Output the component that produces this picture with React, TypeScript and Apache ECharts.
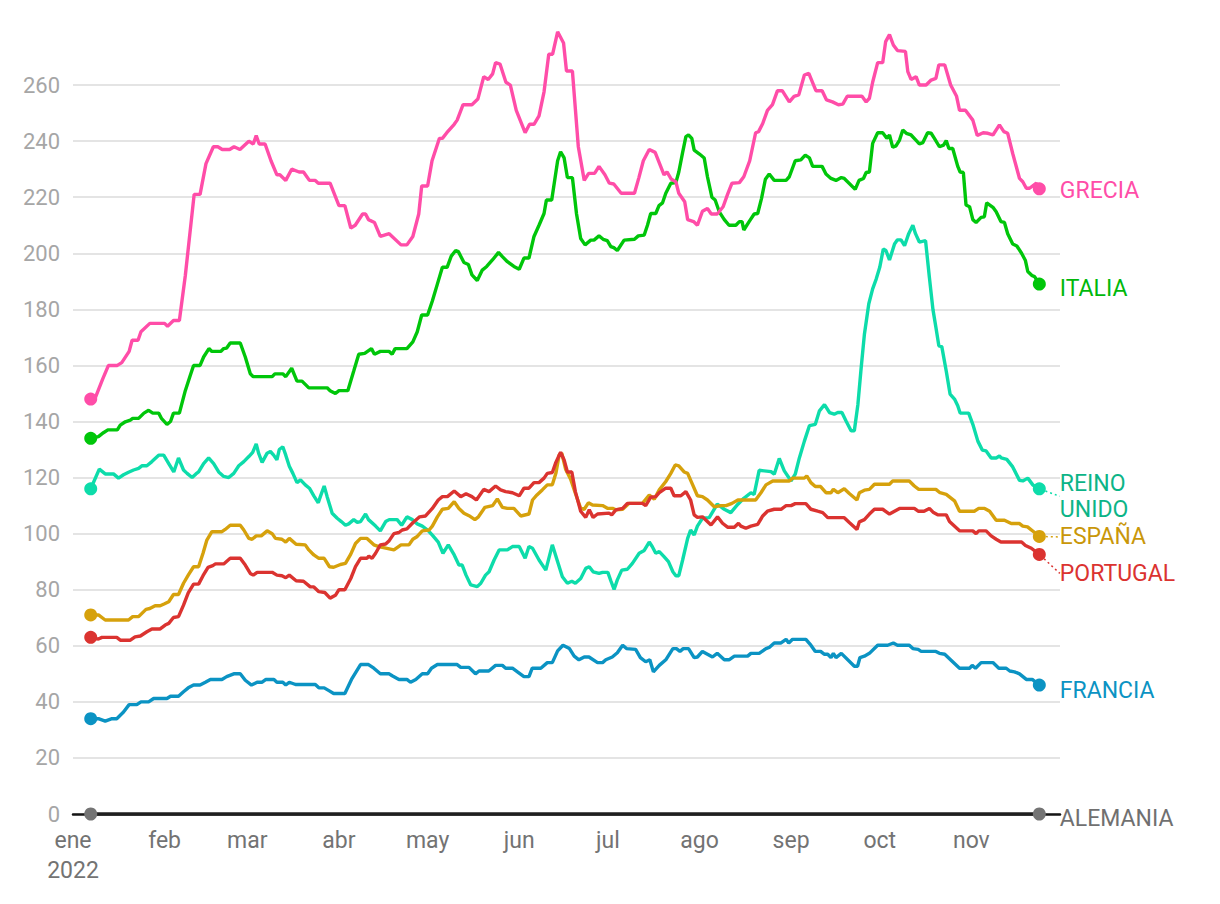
import React, { useEffect, useRef } from "react";
import * as echarts from "echarts";

const monthLabels = ["ene", "feb", "mar", "abr", "may", "jun", "jul", "ago", "sep", "oct", "nov", "dic"];
const yearLabel = "2022";
const yMax = 280;
const yInterval = 20;

// [day offset from 1 Jan 2022, value]
const grecia: [number, number][] = [[6,148],[7,147],[10,155],[12,160],[15,160],[16.5,161],[19,165],[20,169],[22,169],[23,172],[26,175],[31,175],[32,174],[34,176],[36,176],[38,192],[41,221],[43,221],[45,232],[47.5,238],[49,238],[50.5,237],[53,237],[54.5,238],[56.5,237],[59.5,240],[61,239],[62,242],[63,239],[65,239],[67,233],[69,228],[70,228],[72,226],[74,230],[76.5,229],[78,229],[80,226],[82,226],[83,225],[87,225],[90,217],[92,217],[94,209],[95.5,210],[98,214],[99,214],[100,212],[102,211],[104,206],[107,207],[111,203],[113,203],[115,206],[117,214],[118,224],[120,224],[121.5,233],[124,241],[125,241],[126.5,243],[129,246],[130,247.5],[132,253],[135,253],[137,255],[139,263],[140.5,262],[142,264],[143,268],[144.5,267.5],[146.5,261],[148,260],[150,251],[153,243],[154.5,246],[156,246],[157.7,249],[159.4,257.6],[161,271],[162.3,271],[164,279],[166,275],[167,265],[169,265],[171,238],[173,226],[174.5,228.5],[176.5,228.5],[178,231],[180,228],[181.5,225],[183,224.7],[185.5,221.4],[190,221.4],[191.5,227],[193,233],[195,237],[197,236],[200,228],[201,229],[202.5,226.4],[204,225.5],[205,221.4],[207,218.4],[208,212],[210,211.3],[211.3,210],[213,215],[214.7,216],[216,214],[218,214],[220,216.6],[221.5,221],[223,225],[225.5,225.2],[227,227.3],[229,233],[231,243],[232,243.4],[233.4,246.3],[235,251],[236.7,253],[238.4,258],[240,258],[242.4,254],[244,256],[245.6,256.5],[247.5,263.6],[249,264.2],[251.4,258],[253.5,258],[255,254.7],[257,254],[259,253],[260.5,253.2],[262,256],[267,256],[268.4,254],[269.5,255.3],[270.6,261],[272.3,268],[274,268],[275,275.5],[276.3,278],[277.6,274.3],[279,272.3],[281.7,272],[282.5,264.8],[283.6,262],[285.3,263],[286.4,260],[288.7,260],[290.4,261.8],[292,262.4],[293,267.2],[295,267.2],[297,260],[299,256],[300,251],[302,251],[304.5,247.5],[306,242],[308,243],[309.6,242.8],[311.3,242.2],[313.5,245.8],[315,243.4],[316.3,242.8],[318,235.6],[320.3,226.7],[321.4,225.5],[322.6,223.2],[323.7,223.2],[326,225],[327,223]];

const italia: [number, number][] = [[6,134],[8.6,134.6],[10.3,136],[11.8,137],[15,137],[16,138.7],[17.7,139.9],[19.4,140.5],[20.2,141.1],[22.2,141.1],[24,143],[25.6,144],[27,143],[29,143],[30,141],[31.8,139],[33,140],[34,143],[36,143],[38,151],[39.7,156.5],[40.8,160],[43,160],[44.2,163],[46,166],[47,165],[50,165],[51,166],[52,166.2],[53.2,168],[56.6,168],[58.3,163],[60,157],[61,156],[67.4,156],[68.3,157],[71,157],[72,156],[74,159],[75.8,154.4],[77.5,154.4],[79.8,152],[86,152],[87,151],[88.8,150],[90,151],[93,151],[95,158],[96.7,164],[98.7,164.3],[101,166],[102,164],[104,165],[107,165],[108,164],[109,166],[113,166],[115,168.4],[116.5,172],[118,178],[120,178],[121.6,183],[123.3,189],[125,195],[126.6,195],[128,199],[129.5,201],[130.4,200.6],[132.3,196.7],[133.8,196],[135,192.3],[136.8,190.3],[138.5,194],[140,195.3],[142,197.7],[144,200.3],[145.3,198.8],[147,197],[149.2,195.3],[151,194.3],[152.6,198.3],[154.3,198.3],[156,206],[157.7,210],[159.4,214.2],[160.2,219],[162,219],[164,233],[165,236.2],[166.2,234],[167.3,227],[169,227],[170.4,214],[171.8,205.3],[173.3,203],[175.2,204.7],[176.3,204.7],[178,206.2],[179.4,205],[180.8,204.5],[182,202.4],[183,202],[184.2,201],[186.5,204.7],[190,205],[191.3,206.2],[193.3,206.5],[194.4,210],[195.5,214.2],[197.2,214.2],[198.3,217],[199.5,218],[200.6,221.4],[202.3,225],[204,225.2],[205,229],[206.3,236],[207.4,241.6],[208.3,242.2],[209.4,241],[210.2,236.8],[212,235.4],[213.6,234],[214.7,227.3],[216.2,220],[217.3,219],[218.7,214.8],[220.4,212],[222,210],[224.3,210],[225.5,211.3],[226.4,211.3],[227,208.3],[228.8,211.3],[230.5,214],[231.7,214.2],[233,219.6],[234.3,226.4],[235.6,228.3],[237.3,226],[241.3,226],[242.4,227.3],[244.4,233],[246.3,233.3],[247.8,235],[249.2,234],[250.3,231],[253.5,231],[254.8,228.3],[256.5,226.7],[258.2,226],[260,227],[261,226.7],[264.7,222.8],[266,226],[267.5,226.7],[268.4,228.8],[269.5,229],[270.6,239.2],[272.3,243],[274,243],[275.4,241],[276.3,242.2],[277.4,237.8],[278.5,238.3],[279.7,240.4],[280.8,244],[282,242.8],[283.6,242.2],[285,240.6],[286.4,239],[287.6,239.5],[289.2,243],[290.4,242.8],[291.5,241],[293.2,238],[294.6,238.6],[295.5,240.2],[296.4,237.4],[297.7,237.4],[299.4,231],[300.2,229],[301.3,228.8],[302.2,217.2],[303.4,216.6],[304.5,212],[305.6,211],[307.3,212.8],[308.4,213],[309.2,218],[311.3,216.4],[312.4,214.8],[314,211.3],[315.2,211],[316.3,207],[318,203.3],[319.4,202.6],[321,200],[322.3,197.4],[323.1,193.5],[324.6,192],[325.4,191.7],[327,189]];

const reinoUnido: [number, number][] = [[6,116],[8.9,123],[10.9,121.3],[13.7,121.3],[15.4,119.8],[17.1,121],[18.8,121.9],[20.5,122.7],[22.2,123.3],[23.3,124.2],[25,124.2],[26.7,125.7],[29,128],[30.7,128],[32.4,125],[34.1,122],[35.7,127],[37.4,122.7],[38.6,121.5],[40.3,120],[41.6,121.3],[42.5,122],[44.2,125],[45.9,127],[47.6,125],[49.3,122],[51,120.4],[52.7,120],[54.4,121.5],[56.1,124.2],[57.8,125.7],[59.5,127.5],[60.8,129],[62,132],[62.8,128.7],[64,125.4],[65.7,128.7],[66.8,129.3],[67.9,128],[69,126.3],[69.8,130],[71,131],[72,128],[73.2,124],[74.4,121.5],[75.8,118.2],[77,119.2],[78.6,117.4],[80,116.2],[81.5,113.5],[83,111],[83.7,113.2],[85,117],[86,113.2],[87.7,107.3],[89.4,105.5],[90.8,104.3],[92.2,103],[93.3,103.5],[95,105],[96.2,104],[97.3,104.3],[99,107],[100,105],[102.4,102.7],[104,101],[105.8,104.3],[107,105],[109.7,105],[111.2,103],[113,106],[114.8,105],[116.5,103.5],[118.2,102.7],[120,101.3],[121.6,99.5],[123.6,97],[125.2,93],[127,96],[129,92.4],[130.6,88.8],[131.7,88.8],[133,85.2],[134.6,81.7],[136.8,81.1],[138,82.3],[139.6,85.2],[140.8,86.4],[142.5,90.6],[144.2,94.2],[147,94.2],[148.7,95.4],[151,95.4],[153,91.2],[154.3,95.4],[155.5,94.8],[157.7,90.6],[160,87],[162.2,96],[164,90],[165.6,84.6],[167.3,82.3],[168.8,83],[170,82.3],[171.8,84],[173.5,87.6],[174.7,88.2],[176,86.4],[178,85.8],[179.2,86.2],[181,86.2],[182,83.2],[183.1,80.1],[184.2,83.5],[185.7,87],[187.6,87.3],[189.3,89.4],[191.6,93],[193.3,94],[195,97],[196,95.4],[197.2,93],[198.4,93.6],[200,91.8],[201.5,90],[203,86.4],[204,85],[205,85],[206.3,90.6],[208,98.3],[209,101.3],[210.2,99.5],[211.3,102.7],[213,105.5],[215.3,105.7],[218,110.5],[220.4,108.7],[222.6,107.5],[225,110.5],[227,112.6],[229.4,114.6],[230.5,114],[232.2,122.6],[236.2,122.1],[237.3,121.2],[239,126.8],[240.7,122.4],[243,118.8],[244.4,121.2],[245.8,127],[247.5,133],[249.2,138.5],[251.2,139],[252.6,143.8],[254.3,146],[256,143.2],[257.6,142.6],[258.8,143.2],[260.2,143.2],[261.6,140.2],[263.3,136.7],[264.4,136.7],[265.6,146],[266.7,159],[267.8,171],[269.3,182],[270.6,187.3],[271.8,190.8],[273,195],[274.2,201.5],[275.1,201],[276.3,197.6],[278,203.3],[279,204.8],[280.2,204.8],[281.4,202.7],[282.8,207],[284.2,210],[285.1,207],[286.4,204],[288.5,204.5],[289.8,191.4],[291,180],[292,173.6],[293,167],[294,166.7],[295.5,158],[296.8,149.8],[298.3,148],[299.4,145.6],[300.2,143],[303.1,143],[304.5,139],[306.2,133],[307.7,129.8],[309,129.5],[310.7,127],[312.4,127],[313.5,127.7],[314.1,127],[316,126.5],[318,123.8],[320.3,119],[321.4,118.8],[323.1,119.8],[324.8,117.4],[326,116.4],[327,116]];

const espana: [number, number][] = [[6,71],[8.6,71],[10.9,69.2],[18.8,69.2],[20.2,70.4],[22.2,70.4],[24.7,73],[26,73.3],[27.8,74.3],[29.5,74.3],[31,75],[32.4,75.7],[34,78.3],[35.7,78.3],[37.4,82.3],[39,85.2],[40.8,88.2],[42.5,88.2],[44,93],[45.3,97.7],[47,100.7],[50.4,100.7],[51.5,101.5],[53.2,103],[56.6,103],[57.8,101.3],[59.5,98.3],[60.6,98],[62,99.2],[63.7,99.2],[65.7,101],[67.4,100],[68.5,98.3],[70.7,98],[72,97],[73.2,98.3],[75.5,96.2],[78.6,96],[79.8,94.2],[81.5,92.4],[83.2,91.2],[85,91.2],[86.8,88.2],[88.2,88],[90.5,89],[92.2,89.4],[94,92.7],[95.6,96.5],[97.3,98.3],[99.5,98.3],[101.8,96],[103.5,95.4],[108.6,94.2],[111,96],[113.7,96],[115,98],[116.5,99],[118.2,101],[120.5,101.3],[121.6,102.7],[123.3,106],[125,108.7],[127,109],[129,111.4],[130.6,109],[132.3,107.3],[134,106.4],[136,105],[137.2,106],[139.4,109.4],[142,110],[143.6,112.4],[145.3,109.4],[147,109],[149.2,109],[151.5,106.3],[154.3,107],[155.5,112],[157,113.8],[158.8,115.6],[160.5,117.4],[162.2,117.4],[163.4,121.5],[164.5,128],[165.4,128.7],[166.7,123],[168.4,119.4],[170,114.4],[171.8,109],[173,108.7],[174.4,111],[175.8,110.2],[179.2,110],[181,109],[182.6,109],[183.7,108.5],[186,108.7],[188.2,110.8],[192.7,110.8],[195,113.8],[196.7,112.3],[198.4,115.6],[200.6,118.6],[202.3,121.5],[203.8,124.5],[205,124.2],[206.8,122],[208,121.5],[209.7,117.4],[211.3,113.5],[213,113.2],[214.7,112],[217,109.6],[219.3,110],[221,110],[223,110.8],[225,112],[226.6,112],[231,112],[232.8,114.6],[234.5,117.4],[236.8,118.8],[242.4,118.8],[243.5,119.8],[247.5,119.8],[248.3,120.6],[249.7,118.2],[251.2,116.8],[253,116.8],[254.8,114.6],[256.5,114.6],[257.3,115.8],[258.8,114.6],[261,116],[262.7,114.3],[265.3,112],[266.1,114.6],[267.8,115.5],[269.5,115.8],[271.2,117.6],[276.3,117.6],[277.4,118.8],[283,118.8],[284.7,117],[286.2,115.8],[292,115.8],[293.4,114.6],[295.5,114],[298.3,111.7],[300,108],[305,108],[306.5,109],[308.5,109],[310.2,108],[312.4,104.8],[315.2,104.8],[317.5,103.6],[320.3,103.6],[321.4,102.7],[323,102.4],[325.4,100.4],[327,99]];

const portugal: [number, number][] = [[6,63],[8.6,62.4],[9.8,63],[14.8,63],[16,62],[19.4,62],[21,63.2],[22.8,63.5],[25,65],[26.7,66],[29.5,66],[31.2,67.4],[32.4,68],[34,70.1],[35.7,70.4],[37.4,74.5],[39,78.9],[40.8,82],[42.5,82],[44,85],[45.7,88],[47.3,88.6],[48.2,89.2],[51,89.2],[53.2,91.2],[56.6,91.2],[58.3,88.8],[60,85.8],[61,85.2],[62.3,86.2],[67.4,86.2],[69,85.2],[70.7,85],[72,84.3],[73.2,85.2],[75.5,83.2],[78,83],[80.3,81],[81.5,81],[83.2,79.3],[85.2,79],[87,77],[88.8,78],[90,80],[92,80],[94,84],[95.6,88.2],[97.3,91.2],[99.5,91.2],[100.1,92],[101.2,91.2],[102.4,93],[104,96],[105.8,96.3],[107,97.5],[108.6,100],[110.3,100.4],[111.4,101.3],[113,101.7],[115,103.9],[117.3,106],[119.3,106.3],[121.6,109],[123.6,112],[125,113.2],[126.7,113.2],[129,115.2],[131.2,113.2],[133,114.2],[135,113.2],[136.5,112],[139,115.8],[140.8,115],[143,117],[144.7,115.6],[146.4,115],[148.7,114.6],[151,113.5],[152.6,116.2],[154.3,116.2],[156,118.2],[157.7,118.2],[159.4,119.8],[160.5,121.5],[162.2,121.8],[163.4,125.4],[165,129],[166.2,126.3],[167.3,122],[168.8,122],[170,115],[171.8,108],[173.5,105.8],[174.7,108.5],[176,105.8],[177.5,107],[181.4,107.3],[182.3,106.7],[183.7,108.5],[186,109],[187.6,110.8],[192.7,110.8],[193.8,110],[195.5,113],[197.2,113.2],[198.4,114.6],[200.6,116.2],[202.3,116.2],[203.4,113.5],[205.7,113.5],[207.4,115],[209,112],[210.2,106.7],[211.3,105.8],[213,106],[215.9,103.1],[218.1,106],[219.8,103.7],[221.5,102.3],[223.8,102.3],[225.2,103.7],[226,102.7],[227.7,101.9],[229.4,102.7],[231.7,103.3],[233.4,106.3],[235,108],[237.3,108.7],[239.6,108.7],[241.3,110],[243,110],[244.4,110.7],[248,110.7],[249.7,108.7],[252,108],[253.7,107.5],[255.4,105.7],[261,105.7],[262.7,104],[265.3,101.5],[266.1,104.2],[267.8,105],[269.5,107],[271.2,108.7],[274,108.7],[276.3,107],[278,108],[279.7,109],[284.7,109],[286,108],[288,108],[289.8,109],[291.2,107.5],[292.6,106.7],[295.5,106.7],[296.6,104.3],[300,101],[304.5,101],[305.6,100],[306.5,101],[309,101],[310.7,99.2],[312.4,98],[314,97],[321,97],[322.3,95.8],[324.3,94.8],[327,92.6]];

const francia: [number, number][] = [[6,34],[8.6,34],[10.9,33.1],[13.2,34],[14.8,34],[17.1,36.4],[19,39],[21.6,39],[23,40],[25.6,40],[27.3,41.2],[31.8,41.2],[33,42],[35.7,42],[37.4,43.6],[39,45],[40.8,46],[43,46],[44.8,47],[46.5,48],[50.4,48],[52,49],[54.4,50],[56.6,50],[58.3,47.7],[60.4,46],[62.3,47],[64,47],[65.3,48],[68,48],[69,47],[71,47],[72,46],[73.2,47],[75.3,46.2],[82,46.2],[83.2,45],[85,45],[86.6,44],[88.2,43],[92,43],[94.4,48.3],[97.3,53.3],[100,53.3],[101.8,52],[104,50],[107,50],[108,49.3],[110.3,48],[113,48],[114.2,47],[116,48],[118.2,50],[120,50],[121.3,52],[123.3,53.3],[130,53.3],[131.2,52.3],[134,52.3],[136.2,50],[137.4,51],[140.7,51],[143,53],[145.3,53],[146.4,52],[148.7,52],[150.4,50.7],[152.6,49],[154.3,49],[155.4,52],[158.3,52],[160.5,54],[162.2,54],[164,58.2],[165.8,60.2],[168,59],[169.6,56.3],[171.2,55],[173,56],[174.6,56],[177.5,54],[179.2,54],[180.3,55],[182.5,56],[184.2,57.5],[186,60.2],[187.3,59],[190.4,58.7],[192,55.8],[193.8,54.3],[195.2,55],[196.4,50.7],[198.4,53],[200.6,55],[203,59],[204.2,59],[205.4,58],[206.5,59],[208.3,59],[210.2,55.8],[211.3,56],[213,58],[214.7,57],[216.4,56],[218,57.3],[220.4,55],[222,55],[223.8,56.3],[228.3,56.3],[229.4,57.3],[232.2,57.3],[234.5,59],[235.6,59.4],[237.3,61],[239.6,61],[241.3,62.3],[242.2,61],[243.5,62.3],[248,62.3],[249.7,60.2],[251.2,58],[253,58],[254.2,57],[255.4,57],[256.5,55.8],[257.3,57.3],[258.2,55.8],[260,57.3],[264.4,52.7],[265.5,52.7],[266.3,55.8],[267.8,56.3],[269.5,57.3],[272.3,60.2],[275.7,60.2],[277.6,61],[279,60.2],[283,60.2],[284.2,59],[286,58.7],[287,58],[292,58],[293.2,57.3],[295,57],[300,52],[303.4,52],[304.3,53],[305.4,52],[307.3,54],[311.3,54],[313.3,52],[315.8,52],[317,51],[318.6,50.7],[320.3,50],[322.6,48],[324.6,48],[327,46]];

const alemania: [number, number][] = [[6,0],[327,0]];

const seriesDefs = [
  { name: "ALEMANIA", text: "ALEMANIA", data: alemania, color: "#747474", line: "#1f1f1f", labelColor: "#707070", dy: 4, lh: 27, leader: false },
  { name: "FRANCIA", text: "FRANCIA", data: francia, color: "#0b93c3", line: "#0b93c3", labelColor: "#0b93c3", dy: 5, lh: 27, leader: false },
  { name: "REINO UNIDO", text: "REINO\nUNIDO", data: reinoUnido, color: "#0ddcaa", line: "#0ddcaa", labelColor: "#0cb487", dy: 7.5, lh: 26, leader: true },
  { name: "ESPAÑA", text: "ESPAÑA", data: espana, color: "#d6a10c", line: "#d6a10c", labelColor: "#c99709", dy: 0.5, lh: 20, leader: true },
  { name: "PORTUGAL", text: "PORTUGAL", data: portugal, color: "#db3330", line: "#db3330", labelColor: "#db3330", dy: 19, lh: 24, leader: true },
  { name: "ITALIA", text: "ITALIA", data: italia, color: "#00c60a", line: "#00c60a", labelColor: "#00b80a", dy: 4, lh: 27, leader: false },
  { name: "GRECIA", text: "GRECIA", data: grecia, color: "#ff4da8", line: "#ff4da8", labelColor: "#ff4da8", dy: 2, lh: 27, leader: false },
];

const DAY = 86400000;
const base = new Date(2022, 0, 1).getTime();
const axisEnd = base + 334 * DAY;
const FONT = "Roboto, 'Noto Sans', sans-serif";

export default function App() {
  const ref = useRef<HTMLDivElement>(null);
  useEffect(() => {
    if (!ref.current) return;
    const chart = echarts.init(ref.current, undefined, { renderer: "svg" });
    const nTicks = yMax / yInterval + 1;
    const splitColors = Array.from({ length: nTicks }, (_, i) => (i === nTicks - 1 ? "rgba(0,0,0,0)" : "#e4e4e4"));
    const series = seriesDefs.map((s) => {
      const n = s.data.length;
      return {
        name: s.name,
        type: "line",
        data: s.data.map((p, i) => {
          const item: any = { value: [base + p[0] * DAY, p[1]] };
          if (i === n - 1) {
            item.label = {
              show: true,
              position: "right",
              distance: 14,
              formatter: s.text,
              color: s.labelColor,
              fontSize: 23,
              lineHeight: s.lh,
              fontFamily: FONT,
            };
          }
          return item;
        }),
        showSymbol: true,
        showAllSymbol: true,
        symbol: (_v: any, params: any) => (params.dataIndex === 0 || params.dataIndex === n - 1 ? "circle" : "none"),
        symbolSize: 13,
        itemStyle: { color: s.color },
        lineStyle: { color: s.line, width: 3.4 },
        label: { show: false },
        labelLayout: { dy: s.dy },
        labelLine: { show: s.leader, lineStyle: { color: s.color, width: 1.5, type: [2, 3] } },
        emphasis: { disabled: true },
        silent: true,
        z: 3,
      };
    });
    chart.setOption({
      animation: false,
      backgroundColor: "#ffffff",
      textStyle: { fontFamily: FONT },
      grid: { left: 73, right: 160, top: 29, bottom: 90, containLabel: false },
      xAxis: {
        type: "time",
        min: base,
        max: axisEnd,
        minInterval: 28 * DAY,
        maxInterval: 31 * DAY,
        axisLine: { show: true, lineStyle: { color: "#151515", width: 2.5 } },
        axisTick: { show: false },
        splitLine: { show: false },
        axisLabel: {
          color: "#737373",
          fontSize: 23,
          lineHeight: 30,
          margin: 11,
          fontFamily: FONT,
          formatter: (v: number) => {
            const d = new Date(v);
            if (d.getDate() !== 1) return "";
            const m = d.getMonth();
            if (m === 11) return "";
            if (m === 0) return monthLabels[0] + "\n" + yearLabel;
            return monthLabels[m];
          },
        },
      },
      yAxis: {
        type: "value",
        min: 0,
        max: yMax,
        interval: yInterval,
        axisLine: { show: false },
        axisTick: { show: false },
        axisLabel: { color: "#a6a6a6", fontSize: 22, margin: 13, fontFamily: FONT, showMaxLabel: false },
        splitLine: { show: true, lineStyle: { color: splitColors, width: 2 } },
      },
      series,
    });
    return () => chart.dispose();
  }, []);
  return <div ref={ref} style={{ position: "fixed", left: 0, top: 0, width: 1220, height: 904, background: "#fff" }} />;
}
